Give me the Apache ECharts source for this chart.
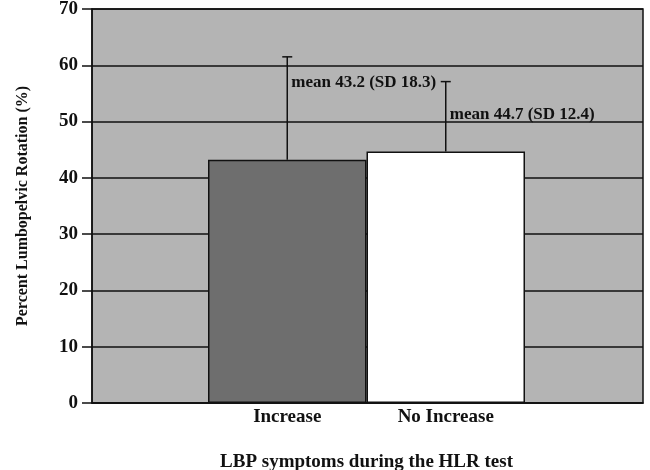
<!DOCTYPE html>
<html>
<head>
<meta charset="utf-8">
<script src="https://cdn.jsdelivr.net/npm/echarts@6/dist/echarts.min.js"></script>
<style>html,body{margin:0;padding:0;background:#fff}#c{width:650px;height:470px}</style>
</head>
<body>
<div id="c"></div>
<script>
var categories = ['Increase', 'No Increase'];
var means = [43.2, 44.7];
var sds = [18.3, 12.4];
var barColors = ['#6e6e6e', '#ffffff'];
var yTicks = [0, 10, 20, 30, 40, 50, 60, 70];

var FONT = '"Liberation Serif", "Times New Roman", serif';
var chart = echarts.init(document.getElementById('c'), null, {renderer: 'canvas'});
var labelOffsets = [26, 33];

var option = {
  animation: false,
  grid: [
    {left: 92, top: 9, width: 551, height: 394, show: true, backgroundColor: '#b4b4b4', borderColor: '#111', borderWidth: 1.5, outerBoundsMode: 'none', containLabel: false},
    {left: 208, top: 9, width: 317, height: 394, outerBoundsMode: 'none', containLabel: false}
  ],
  xAxis: [
    {gridIndex: 0, type: 'category', data: [''], axisLine: {show: true, lineStyle: {color: '#111', width: 1.5}}, axisTick: {show: false}, axisLabel: {show: false}},
    {gridIndex: 1, type: 'category', data: categories, axisLine: {show: false}, axisTick: {show: false},
     axisLabel: {color: '#111', fontFamily: FONT, fontWeight: 'bold', fontSize: 19, margin: 5},
     name: 'LBP symptoms during the HLR test', nameLocation: 'middle', nameGap: 50,
     nameTextStyle: {color: '#111', fontFamily: FONT, fontWeight: 'bold', fontSize: 19}}
  ],
  yAxis: [
    {gridIndex: 0, type: 'value', min: yTicks[0], max: yTicks[yTicks.length - 1], interval: 10,
     axisLine: {show: true, lineStyle: {color: '#111', width: 1.5}},
     axisTick: {show: true, length: 10, lineStyle: {color: '#111', width: 1.5}},
     axisLabel: {color: '#111', fontFamily: FONT, fontWeight: 'bold', fontSize: 19, margin: 14},
     splitLine: {show: true, lineStyle: {color: '#111', width: 1.5}},
     name: 'Percent Lumbopelvic Rotation (%)', nameLocation: 'middle', nameRotate: 90, nameGap: 61,
     nameTextStyle: {color: '#111', fontFamily: FONT, fontWeight: 'bold', fontSize: 16}},
    {gridIndex: 1, type: 'value', min: 0, max: 70, show: false, splitLine: {show: false}}
  ],
  series: [
    {type: 'bar', xAxisIndex: 1, yAxisIndex: 1, barCategoryGap: 0, barWidth: '100%',
     data: means.map(function (m, i) { return {value: m, itemStyle: {color: barColors[i], borderColor: '#111', borderWidth: 1.5}}; })},
    {type: 'custom', xAxisIndex: 1, yAxisIndex: 1, z: 5,
     data: means.map(function (m, i) { return [i, m, sds[i]]; }),
     renderItem: function (params, api) {
       var i = api.value(0), m = api.value(1), s = api.value(2);
       var p0 = api.coord([i, m]);
       var p1 = api.coord([i, m + s]);
       var cap = 5;
       var ls = {stroke: '#111', lineWidth: 1.5};
       return {type: 'group', children: [
         {type: 'line', shape: {x1: p0[0], y1: p0[1], x2: p1[0], y2: p1[1]}, style: ls},
         {type: 'line', shape: {x1: p1[0] - cap, y1: p1[1], x2: p1[0] + cap, y2: p1[1]}, style: ls},
         {type: 'text', x: p1[0] + 4, y: p1[1] + labelOffsets[params.dataIndex],
          style: {text: 'mean ' + m.toFixed(1) + ' (SD ' + s.toFixed(1) + ')', fill: '#111', font: 'bold 17px ' + FONT, textAlign: 'left', textVerticalAlign: 'middle'}}
       ]};
     }}
  ]
};
chart.setOption(option);
</script>
</body>
</html>
